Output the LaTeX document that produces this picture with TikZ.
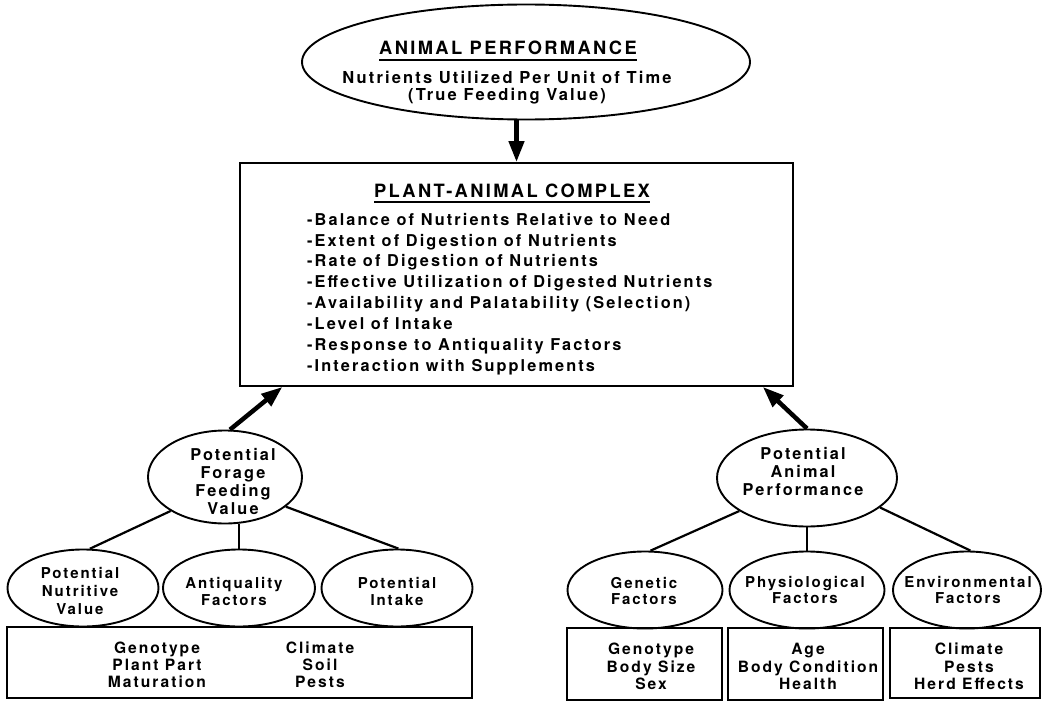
\documentclass[tikz,border=0pt]{standalone}
\usepackage{fontspec}
\setmainfont{TeX Gyre Heros}[LetterSpace=13]
\usetikzlibrary{shapes.geometric,arrows.meta,calc}
\newcommand{\thickul}[1]{\setbox0\hbox{#1}\rlap{\raisebox{-6pt}{\rule{\wd0}{1.7pt}}}\box0}
\begin{document}
\begin{tikzpicture}[x=1pt,y=-1pt,
  ell/.style={ellipse,draw,line width=1.9pt,inner sep=0pt},
  bx/.style={draw,line width=1.9pt,inner sep=0pt},
  big/.style={font=\fontsize{16.3}{18}\selectfont\bfseries,inner sep=0pt,align=center},
  ttl/.style={font=\fontsize{18.3}{20}\selectfont\bfseries,inner sep=0pt,anchor=base},
  sml/.style={font=\fontsize{15}{16.5}\selectfont\bfseries,inner sep=0pt,align=center},
  boxt/.style={font=\fontsize{15.6}{17.5}\selectfont\bfseries,inner sep=0pt,align=center},
  link/.style={line width=2.2pt},
  arr/.style={line width=4.5pt,-{Triangle[length=21pt,width=15pt]}}]
\useasboundingbox (0,0) rectangle (1042,701);
% top ellipse
\node[ell,minimum width=448pt,minimum height=115pt] (perf) at (526,62) {};
\node[ttl] (perft) at (508,55) {\thickul{ANIMAL PERFORMANCE}};
\node[big,font=\fontsize{16.5}{16.5}\selectfont\bfseries] (perfs) at (507,87.5) {Nutrients Utilized Per Unit of Time\\(True Feeding Value)};
% plant-animal complex box
\node[bx,minimum width=553pt,minimum height=223pt] (pac) at (516.5,274.5) {};
\node[ttl] (pact) at (512,197) {\thickul{PLANT-ANIMAL COMPLEX}};
\node[big,align=left,anchor=west,font=\fontsize{16.3}{20.9}\selectfont\bfseries] (pacl) at (307,294) {%
-Balance of Nutrients Relative to Need\\
-Extent of Digestion of Nutrients\\
-Rate of Digestion of Nutrients\\
-Effective Utilization of Digested Nutrients\\
-Availability and Palatability (Selection)\\
-Level of Intake\\
-Response to Antiquality Factors\\
-Interaction with Supplements};
\draw[arr] (perf.south -| pac.north) -- (pac.north);
% left subtree
\node[ell,minimum width=154pt,minimum height=93pt] (pffv) at (225,477) {};
\node[big] (pffvt) at (233,481.5) {Potential\\Forage\\Feeding\\Value};
\node[ell,minimum width=151pt,minimum height=77pt] (pnv) at (83,588) {};
\node[sml,font=\fontsize{15}{18}\selectfont\bfseries] (pnvt) at (80,591) {Potential\\Nutritive\\Value};
\node[ell,minimum width=152pt,minimum height=77pt] (aqf) at (239,588) {};
\node[sml] (aqft) at (234,591.5) {Antiquality\\Factors};
\node[ell,minimum width=151pt,minimum height=77pt] (pin) at (397,588) {};
\node[sml] (pint) at (397,591.5) {Potential\\Intake};
\node[bx,minimum width=465pt,minimum height=71pt] (lbox) at (239.5,662.5) {};
\node[boxt,font=\fontsize{15.6}{17}\selectfont\bfseries] (lbox1) at (157,665) {Genotype\\Plant Part\\Maturation};
\node[boxt,font=\fontsize{15.6}{17}\selectfont\bfseries] (lbox2) at (320,665) {Climate\\Soil\\Pests};
\draw[arr] (pffv.84) -- ($(pac.south west)!0.078!(pac.south east)$);
\draw[link] (pffv.212) -- (pnv.80);
\draw[link] (aqf.north) -- (aqf.north |- pffv.south);
\draw[link] (pffv.334) -- (pin.88);
% right subtree
\node[ell,minimum width=180pt,minimum height=97pt] (pap) at (807,478) {};
\node[big] (papt) at (803,471.5) {Potential\\Animal\\Performance};
\node[ell,minimum width=155pt,minimum height=77pt] (gen) at (645,590) {};
\node[sml] (gent) at (644,591) {Genetic\\Factors};
\node[ell,minimum width=155pt,minimum height=77pt] (phy) at (807,590) {};
\node[sml] (phyt) at (805,590) {Physiological\\Factors};
\node[ell,minimum width=148pt,minimum height=77pt] (env) at (967,590) {};
\node[sml] (envt) at (968,590) {Environmental\\Factors};
\node[bx,minimum width=155pt,minimum height=72pt] (gbox) at (644.5,664) {};
\node[boxt] (gboxt) at (651,666.5) {Genotype\\Body Size\\Sex};
\node[bx,minimum width=155pt,minimum height=72pt] (pbox) at (805.5,664) {};
\node[boxt] (pboxt) at (808,666.5) {Age\\Body Condition\\Health};
\node[bx,minimum width=150pt,minimum height=70pt] (ebox) at (965,663) {};
\node[boxt] (eboxt) at (969,666.5) {Climate\\Pests\\Herd Effects};
\draw[arr] (pap.north) -- ($(pac.south west)!0.944!(pac.south east)$);
\draw[link] (pap.206) -- (gen.82);
\draw[link] (phy.north) -- (pap.south);
\draw[link] (pap.338) -- (env.85);
\end{tikzpicture}
\end{document}
